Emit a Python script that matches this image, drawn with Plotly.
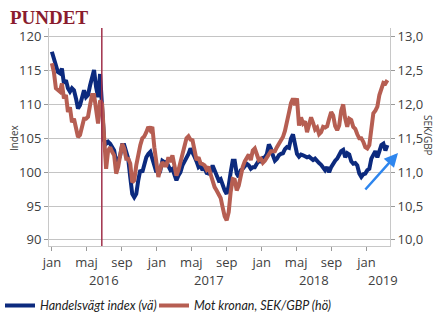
import pandas as pd
import plotly.graph_objects as go

# Weekly observations, 2016-01-01 onwards
dates = pd.date_range("2016-01-01", periods=168, freq="7D")

handelsvagt_index = [
    117.8, 116.8, 115.6, 114.8, 114.6, 115.3, 113.1, 113.6, 112.4, 111.9,
    112.4, 112.1, 110.9, 109.4, 109.9, 110.9, 112.1, 111.1, 111.4, 112.8,
    114.3, 115.1, 112.6, 111.1, 114.5, 110.0, 104.7, 104.2, 104.5, 104.2,
    103.7, 103.2, 101.5, 101.7, 102.5, 104.0, 104.0, 102.7, 102.0, 99.3,
    96.8, 96.3, 96.8, 98.8, 100.3, 100.0, 101.25, 102.2, 102.7, 103.0,
    102.0, 100.75, 100.0, 100.5, 100.3, 101.7, 101.5, 101.5, 100.75, 100.3,
    100.5, 99.5, 98.8, 99.5, 100.0, 101.0, 101.5, 102.2, 102.7, 103.5,
    103.0, 102.3, 101.6, 100.75, 101.0, 100.3, 100.7, 99.9, 99.8, 100.0,
    101.0, 100.3, 99.8, 98.8, 99.0, 98.0, 97.3, 96.8, 98.0, 100.0,
    101.7, 101.7, 99.8, 99.3, 100.3, 100.5, 101.0, 101.25, 101.0, 100.5,
    100.75, 100.75, 101.25, 101.7, 101.6, 102.1, 102.2, 102.7, 104.1, 103.5,
    102.5, 101.7, 102.0, 102.5, 102.7, 102.8, 103.4, 103.7, 103.6, 104.95,
    105.6, 103.7, 102.7, 102.3, 102.6, 102.5, 102.3, 102.2, 102.3, 102.1,
    101.8, 102.0, 101.6, 101.35, 101.1, 100.75, 100.3, 100.75, 100.0, 100.75,
    101.35, 101.7, 102.0, 102.6, 103.1, 103.3, 102.2, 102.8, 102.6, 101.6,
    101.25, 101.35, 101.0, 99.8, 99.3, 99.7, 99.8, 100.3, 100.5, 102.0,
    102.5, 103.1, 102.2, 103.1, 104.0, 104.2, 103.2, 104.0,
]

sek_gbp = [
    12.61, 12.48, 12.24, 12.21, 12.19, 12.31, 12.09, 12.14, 11.89, 11.96,
    11.74, 11.79, 11.64, 11.52, 11.55, 11.67, 11.79, 11.79, 11.82, 11.99,
    12.14, 12.14, 11.87, 11.72, 12.06, 12.01, 11.52, 11.05, 11.32, 11.37,
    11.30, 11.25, 10.98, 11.08, 11.25, 11.42, 11.35, 11.20, 11.20, 11.13,
    10.85, 10.88, 11.10, 11.27, 11.40, 11.50, 11.53, 11.59, 11.67, 11.62,
    11.67, 11.37, 11.15, 10.93, 11.05, 11.15, 11.10, 11.10, 11.22, 11.15,
    11.25, 11.13, 10.95, 11.03, 11.15, 11.25, 11.35, 11.50, 11.53, 11.48,
    11.47, 11.32, 11.18, 11.22, 11.13, 11.12, 11.10, 11.04, 11.08, 10.97,
    10.85, 10.78, 10.73, 10.67, 10.62, 10.48, 10.35, 10.29, 10.41, 10.71,
    10.90, 10.89, 10.73, 10.80, 10.97, 11.08, 11.16, 11.22, 11.26, 11.18,
    11.32, 11.35, 11.27, 11.18, 11.20, 11.14, 11.17, 11.22, 11.27, 11.31,
    11.31, 11.31, 11.37, 11.42, 11.47, 11.52, 11.61, 11.72, 11.88, 12.02,
    12.09, 11.99, 12.09, 11.69, 11.81, 11.72, 11.75, 11.59, 11.72, 11.81,
    11.73, 11.63, 11.66, 11.56, 11.59, 11.67, 11.66, 11.68, 11.79, 11.89,
    11.84, 11.68, 11.62, 11.69, 11.91, 12.00, 11.79, 11.67, 11.79, 11.77,
    11.67, 11.64, 11.56, 11.50, 11.50, 11.45, 11.37, 11.35, 11.40, 11.62,
    11.87, 11.91, 11.97, 12.14, 12.24, 12.32, 12.31, 12.36,
]

tick_dates = ["2016-01-01", "2016-05-01", "2016-09-01", "2017-01-01", "2017-05-01",
              "2017-09-01", "2018-01-01", "2018-05-01", "2018-09-01", "2019-01-01"]
tick_labels = ["jan", "maj", "sep", "jan", "maj", "sep", "jan", "maj", "sep", "jan"]
year_labels = ["2016", "2017", "2018", "2019"]
year_positions = ["2016-07-01", "2017-07-01", "2018-07-01", "2019-03-01"]
left_ticks = [90, 95, 100, 105, 110, 115, 120]
right_ticks = [10.0, 10.5, 11.0, 11.5, 12.0, 12.5, 13.0]
referendum_date = "2016-06-23"

BLUE = "#0c2a7e"
RED = "#b65e52"
TICKFONT = dict(family="Open Sans, sans-serif", size=13, color="#404040")
LEGFONT = dict(family="Lato, sans-serif", size=12.5, color="#222222", style="italic")

fig = go.Figure()
fig.add_trace(go.Scatter(x=dates, y=handelsvagt_index, mode="lines",
                         name="Handelsvägt index (vä)", legend="legend",
                         line=dict(color=BLUE, width=4)))
fig.add_trace(go.Scatter(x=dates, y=sek_gbp, mode="lines", yaxis="y2",
                         name="Mot kronan, SEK/GBP (hö)", legend="legend2",
                         line=dict(color=RED, width=4)))

fig.add_vline(x=referendum_date, line=dict(color="#a0304a", width=1.5))

annotations = []
for lab, pos in zip(year_labels, year_positions):
    annotations.append(dict(x=pos, y=-0.155, xref="x", yref="paper", text=lab,
                            showarrow=False, font=TICKFONT, yanchor="middle"))
annotations.append(dict(x=-0.12, y=1.048, xref="paper", yref="paper", text="<b>PUNDET</b>",
                        showarrow=False, xanchor="left", yanchor="middle",
                        font=dict(family="Liberation Serif, serif", size=19, color="#8a1c2e")))
annotations.append(dict(x=-0.1026, y=0.495, xref="paper", yref="paper", text="Index",
                        showarrow=False, textangle=-90, xanchor="center", yanchor="middle",
                        font=dict(family="Open Sans, sans-serif", size=10, color="#404040")))
annotations.append(dict(x=1.111, y=0.505, xref="paper", yref="paper", text="SEK/GBP",
                        showarrow=False, textangle=90, xanchor="center", yanchor="middle",
                        font=dict(family="Open Sans, sans-serif", size=10, color="#404040")))
annotations.append(dict(x=1.0235, y=0.4266, xref="paper", yref="paper", text="",
                        showarrow=True, ax=-34, ay=38, axref="pixel", ayref="pixel",
                        arrowhead=2, arrowsize=1.1, arrowwidth=2.5, arrowcolor="#2e86ee"))

fig.update_layout(
    width=445, height=326,
    margin=dict(l=49, r=55, t=28, b=80, autoexpand=False),
    paper_bgcolor="white", plot_bgcolor="white",
    separators=", ",
    showlegend=True,
    legend=dict(orientation="h", xref="container", yref="container", x=0, y=0.062,
                xanchor="left", yanchor="middle", font=LEGFONT,
                itemwidth=30, bgcolor="rgba(0,0,0,0)"),
    legend2=dict(orientation="h", xref="container", yref="container", x=154 / 445, y=0.062,
                 xanchor="left", yanchor="middle", font=LEGFONT,
                 itemwidth=30, bgcolor="rgba(0,0,0,0)"),
    xaxis=dict(range=["2015-12-22", "2019-03-24"], tickvals=tick_dates, ticktext=tick_labels,
               ticks="outside", ticklen=4, tickcolor="#999999", showgrid=False,
               showline=True, linecolor="#c8c8c8", linewidth=1, tickfont=TICKFONT),
    yaxis=dict(range=[89.1, 121.3], tickvals=left_ticks, ticks="outside", ticklen=4,
               tickcolor="#999999", showgrid=True, gridcolor="#c4c4c4", gridwidth=1,
               showline=True, linecolor="#c8c8c8", zeroline=False, tickfont=TICKFONT),
    yaxis2=dict(range=[9.91, 13.13], tickvals=right_ticks, tickformat=".1f", overlaying="y",
                side="right", ticks="outside", ticklen=4, tickcolor="#999999", showgrid=False,
                showline=True, linecolor="#c8c8c8", zeroline=False, tickfont=TICKFONT),
    annotations=annotations,
)

fig.write_html("out.html")
